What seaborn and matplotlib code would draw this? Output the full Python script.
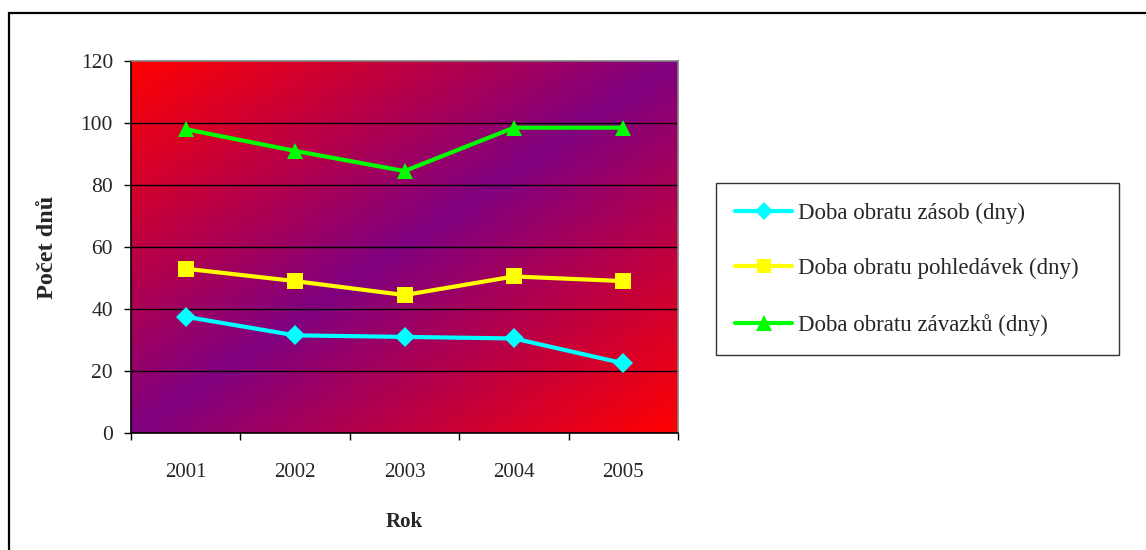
import numpy as np
import pandas as pd
import matplotlib
matplotlib.use("Agg")
import matplotlib.pyplot as plt
import matplotlib.patches as mpatches
from matplotlib.lines import Line2D
import seaborn as sns

years = ["2001", "2002", "2003", "2004", "2005"]
series_names = ["Doba obratu zásob (dny)", "Doba obratu pohledávek (dny)", "Doba obratu závazků (dny)"]
zasob = [37.5, 31.5, 31.0, 30.5, 22.5]
pohledavek = [53.0, 49.0, 44.5, 50.5, 49.0]
zavazku = [98.0, 91.0, 84.5, 98.5, 98.5]
colors = ["#00FFFF", "#FFFF00", "#00FF00"]
markers = ["D", "s", "^"]
msizes = [10, 11, 12]

sns.set_theme(style="white")
plt.rcParams["font.family"] = ["Liberation Serif", "DejaVu Serif"]

rows = []
for name, vals in zip(series_names, [zasob, pohledavek, zavazku]):
    for i, v in enumerate(vals):
        rows.append({"pos": i + 0.5, "Rok": years[i], "val": v, "series": name})
df = pd.DataFrame(rows)

fig = plt.figure(figsize=(11.46, 5.5), dpi=100)
ax = fig.add_axes([131 / 1146, 117 / 550, 547 / 1146, 372 / 550])

# gradient background
n = 400
u = np.linspace(0, 1, n)
v = np.linspace(1, 0, n)
U, V = np.meshgrid(u, v)
s = np.abs(U - V)
red = np.array([1.0, 0.0, 0.0])
purple = np.array([0.5, 0.0, 0.5])
img = purple[None, None, :] + s[:, :, None] * (red - purple)[None, None, :]
ax.imshow(img, extent=(0, 1, 0, 1), transform=ax.transAxes, aspect="auto", zorder=0, interpolation="bilinear")

for yv in [20, 40, 60, 80, 100]:
    ax.axhline(yv, color="black", lw=1.0, zorder=1)

for name, c, m, ms in zip(series_names, colors, markers, msizes):
    sub = df[df["series"] == name]
    sns.lineplot(data=sub, x="pos", y="val", ax=ax, color=c, marker=m, markersize=ms,
                 markeredgewidth=0, linewidth=3, zorder=3, label=name, legend=False)

ax.set_xlim(0, 5)
ax.set_ylim(0, 120)
ax.set_yticks([0, 20, 40, 60, 80, 100, 120])
ax.set_xticks([0, 1, 2, 3, 4, 5])
ax.set_xticklabels([])
ax.set_xticks([0.5, 1.5, 2.5, 3.5, 4.5], minor=True)
ax.set_xticklabels(years, minor=True)
ax.tick_params(axis="x", which="major", direction="out", length=5, width=1, color="black", bottom=True)
ax.tick_params(axis="x", which="minor", length=0, pad=21.5, labelsize=15, bottom=True)
ax.tick_params(axis="y", direction="out", length=5, width=1, color="black", pad=8, labelsize=15.5, left=True)
ax.grid(False)

for side in ["top", "right"]:
    ax.spines[side].set_color("#808080")
    ax.spines[side].set_linewidth(1.2)
for side in ["left", "bottom"]:
    ax.spines[side].set_color("black")
    ax.spines[side].set_linewidth(1.2)

ax.set_xlabel("Rok", fontsize=15, fontweight="bold", labelpad=22)
ax.set_ylabel("Počet dnů", fontsize=17.5, fontweight="bold", labelpad=16)

handles = [Line2D([0], [0], color=c, lw=3, marker=m, markersize=ms - 1, markeredgewidth=0)
           for c, m, ms in zip(colors, markers, msizes)]
leg_x0 = 716 / 1146
leg_w = (1119 - 716) / 1146
leg = fig.legend(handles, series_names, loc="upper left", mode="expand",
                 bbox_to_anchor=(leg_x0, 0.0, leg_w, 1 - 183 / 550), fontsize=16.5,
                 frameon=True, fancybox=False, handlelength=2.45, handletextpad=0.3,
                 labelspacing=1.5, borderpad=0.85, borderaxespad=0)
leg.get_frame().set_edgecolor("black")
leg.get_frame().set_linewidth(1.0)

frame = mpatches.Rectangle((9 / 1146, -0.1), 1.2, 1.1 - 13 / 550, transform=fig.transFigure,
                           fill=False, edgecolor="black", linewidth=1.6, clip_on=False)
fig.patches.append(frame)

fig.savefig("out.png", dpi=100)
